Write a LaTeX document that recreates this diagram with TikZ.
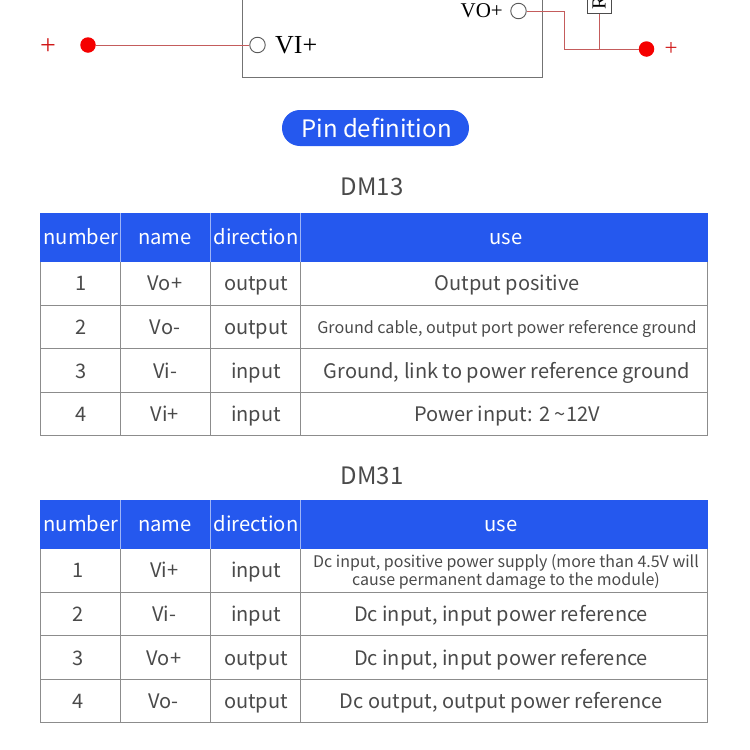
\documentclass[tikz,border=0pt]{standalone}
\usepackage{fontspec}
\setmainfont{Noto Sans CJK SC}
\newfontfamily\serifpin{Liberation Serif}
\definecolor{hdrblue}{HTML}{2558EE}
\definecolor{txtgrey}{HTML}{4A4A4A}
\definecolor{gridgrey}{HTML}{8C8C8C}
\definecolor{wirered}{HTML}{C45C5C}
\definecolor{dotred}{HTML}{F50000}
\definecolor{plusred}{HTML}{D01818}
\tikzset{
  x=1pt,y=-1pt,
  cell/.style={text=txtgrey,font=\fontsize{20}{20}\selectfont,inner sep=0pt,anchor=base,yshift=-7pt},
  small/.style={text=txtgrey,font=\fontsize{16.1}{16.1}\selectfont,inner sep=0pt,anchor=base,yshift=-5.5pt},
  hcell/.style={text=white,font=\fontsize{20.2}{20.2}\selectfont,inner sep=0pt,anchor=base,yshift=-8pt},
  grid/.style={draw=gridgrey,line width=1pt},
  hgrid/.style={draw=white!55!hdrblue,line width=0.8pt},
  title/.style={text=txtgrey,font=\fontsize{24}{24}\selectfont,inner sep=0pt,anchor=center},
  wire/.style={draw=wirered,line width=1pt},
  dot/.style={circle,fill=dotred,draw=none,minimum size=15.5pt,inner sep=0pt},
  pin/.style={circle,draw=black!65,fill=white,line width=0.9pt,minimum size=15.5pt,inner sep=0pt},
  pinlabel/.style={font=\serifpin\fontsize{26}{26}\selectfont,inner sep=0pt,text=black},
  plus/.style={text=plusred,font=\serifpin\fontsize{28}{28}\selectfont,inner sep=0pt}
}
\begin{document}
\begin{tikzpicture}
\useasboundingbox (0,0) rectangle (750,750);
% module
\draw[draw=black!55,line width=1pt] (242,-2) -- (242,77) -- (542.5,77) -- (542.5,-2);
\node[pin] (vin) at (257.5,45) {};
\node[pinlabel,anchor=west] (vinl) at (275,45.5) {VI+};
\node[pin] (vout) at (518.5,11) {};
\node[pinlabel,anchor=east,font=\serifpin\fontsize{21}{21}\selectfont] (voutl) at (503,11) {VO+};
\node[dot] (dl) at (88,45) {};
\node[dot] (dr) at (646.5,49) {};
\node[plus] (pl) at (48,46.5) {+};
\node[plus,font=\serifpin\fontsize{23}{23}\selectfont] (pr) at (671,49.5) {+};
\coordinate (c1) at (564,11);
\coordinate (c2) at (564,49);
\coordinate (c3) at (599,49);
\coordinate (c4) at (599,13);
\draw[wire] (dl) -- (vin);
\draw[wire] (vout) -- (c1) -- (c2) -- (dr);
\draw[wire] (c3) -- (c4);
\draw[draw=black!70,fill=white,line width=0.9pt] (587,-2) rectangle (611.5,13);
\begin{scope}
\clip (587,0) rectangle (611.5,13);
\node[rotate=90,font=\serifpin\fontsize{20}{20}\selectfont,inner sep=0pt] (rs) at (599,3) {R};
\end{scope}
% pill
\fill[hdrblue,rounded corners=17.9pt] (282,110) rectangle (469,146);
\node[text=white,font=\fontsize{24}{24}\selectfont,inner sep=0pt] (pill) at (376.5,128) {Pin definition};
% table 1
\node[title] (t1) at (372,187) {DM13};
\fill[hdrblue] (40,213) rectangle (708,262);
\draw[hgrid] (120.5,213) -- (120.5,262) (210.5,213) -- (210.5,262) (300.5,213) -- (300.5,262);
\draw[grid] (40.5,262) -- (40.5,435) -- (707.5,435) -- (707.5,262);
\draw[grid] (120.5,262) -- (120.5,435) (210.5,262) -- (210.5,435) (300.5,262) -- (300.5,435);
\draw[grid] (40.5,305.5) -- (707.5,305.5) (40.5,348.5) -- (707.5,348.5) (40.5,392.5) -- (707.5,392.5);
\node[hcell] (a0) at (81,236) {number};
\node[hcell] (b0) at (165,236) {name};
\node[hcell] (c0) at (256,236) {direction};
\node[hcell] (d0) at (506,236) {use};
\node[cell] (a1) at (81,283) {1};
\node[cell] (b1) at (165,283) {Vo+};
\node[cell] (c1t) at (256,283) {output};
\node[cell] (d1) at (507,283) {Output positive};
\node[cell] (a2) at (81,327) {2};
\node[cell] (b2) at (165,327) {Vo-};
\node[cell] (c2t) at (256,327) {output};
\node[small] (d2) at (507,328) {Ground cable, output port power reference ground};
\node[cell] (a3) at (81,371) {3};
\node[cell] (b3) at (165,371) {Vi-};
\node[cell] (c3t) at (256,371) {input};
\node[cell] (d3) at (507,371) {Ground, link to power reference ground};
\node[cell] (a4) at (81,414) {4};
\node[cell] (b4) at (165,414) {Vi+};
\node[cell] (c4t) at (256,414) {input};
\node[cell] (d4) at (507,414) {Power input: 2 \textasciitilde12V};
% table 2
\node[title] (t2) at (372,476) {DM31};
\fill[hdrblue] (40,500) rectangle (708,549);
\draw[hgrid] (120.5,500) -- (120.5,549) (210.5,500) -- (210.5,549) (300.5,500) -- (300.5,549);
\draw[grid] (40.5,549) -- (40.5,722) -- (707.5,722) -- (707.5,549);
\draw[grid] (120.5,549) -- (120.5,722) (210.5,549) -- (210.5,722) (300.5,549) -- (300.5,722);
\draw[grid] (40.5,592.5) -- (707.5,592.5) (40.5,635.5) -- (707.5,635.5) (40.5,679.5) -- (707.5,679.5);
\node[hcell] (e0) at (81,523) {number};
\node[hcell] (f0) at (165,523) {name};
\node[hcell] (g0) at (256,523) {direction};
\node[hcell] (h0) at (501,523) {use};
\node[cell] (e1) at (78,570) {1};
\node[cell] (f1) at (164.5,570) {Vi+};
\node[cell] (g1) at (256,570) {input};
\node[text=txtgrey,font=\fontsize{16}{15.5}\selectfont,inner sep=0pt,align=center] (h1) at (506,572) {Dc input, positive power supply (more than 4.5V will\\cause permanent damage to the module)};
\node[cell] (e2) at (78,614) {2};
\node[cell] (f2) at (164,614) {Vi-};
\node[cell] (g2) at (256,614) {input};
\node[cell] (h2) at (501,614) {Dc input, input power reference};
\node[cell] (e3) at (78,658) {3};
\node[cell] (f3) at (164,658) {Vo+};
\node[cell] (g3) at (256,658) {output};
\node[cell] (h3) at (501,658) {Dc input, input power reference};
\node[cell] (e4) at (78,701) {4};
\node[cell] (f4) at (163.5,701) {Vo-};
\node[cell] (g4) at (256,701) {output};
\node[cell] (h4) at (501,701) {Dc output, output power reference};
\end{tikzpicture}
\end{document}
